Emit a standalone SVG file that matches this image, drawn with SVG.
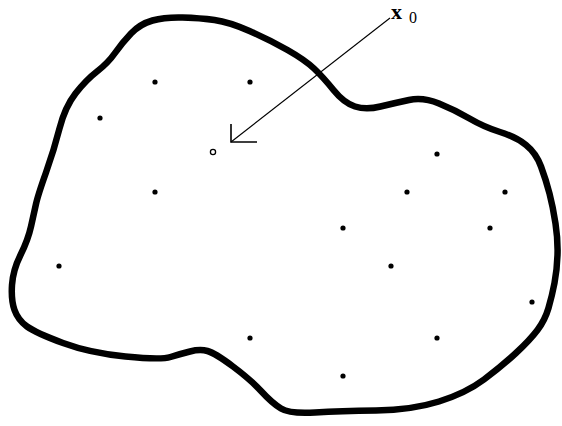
<svg xmlns="http://www.w3.org/2000/svg" width="562" height="426" viewBox="0 0 562 426">
<style>
.outline{fill:none;stroke:#000;stroke-width:6.5;stroke-linejoin:round}
.pt{fill:#000}
.lbl{font-family:"Liberation Serif",serif;fill:#000}
</style>
<rect width="562" height="426" fill="#fff"/>
<g id="region">
<path class="outline" d="M152.5,20.5 Q165,17 182.5,17.5 Q200,18 214.5,20 Q229,22 249.5,31 Q270,40 287.5,50 Q305,60 314,68.5 Q323,77 333.5,90 Q344,103 355,106.5 Q366,110 380.5,106.5 Q395,103 409,100 Q423,97 439,103.5 Q455,110 469.5,118.5 Q484,127 500,132 Q516,137 526,145 Q536,153 541,166.5 Q546,180 549.5,193.5 Q553,207 555.5,223.5 Q558,240 557.5,255 Q557,270 554.5,283 Q552,296 548.5,308 Q545,320 537.5,330 Q530,340 516,353 Q502,366 484,379.5 Q466,393 439,401.5 Q412,410 376,410.5 Q340,411 315,412.5 Q290,414 281,408.5 Q272,403 261.5,391.5 Q251,380 233,366.5 Q215,353 207.5,351 Q200,349 190,351.5 Q180,354 170.5,357 Q161,360 125.5,356.5 Q90,353 63,343 Q36,333 27,326.5 Q18,320 14.5,310 Q11,300 12,285 Q13,270 20.5,255 Q28,240 31,226.5 Q34,213 36,204 Q38,195 46,172.5 Q54,150 59.5,128.5 Q65,107 75.5,93.5 Q86,80 97,71.5 Q108,63 115,53 Q122,43 131,33.5 Q140,24 152.5,20.5 Z"/>
</g>
<g id="points">
<circle class="pt" cx="155" cy="82" r="2.6"/>
<circle class="pt" cx="250" cy="82" r="2.6"/>
<circle class="pt" cx="100" cy="118" r="2.6"/>
<circle class="pt" cx="437" cy="154" r="2.6"/>
<circle class="pt" cx="155" cy="192" r="2.6"/>
<circle class="pt" cx="407" cy="192" r="2.6"/>
<circle class="pt" cx="505" cy="192" r="2.6"/>
<circle class="pt" cx="343" cy="228" r="2.6"/>
<circle class="pt" cx="490" cy="228" r="2.6"/>
<circle class="pt" cx="59" cy="266" r="2.6"/>
<circle class="pt" cx="391" cy="266" r="2.6"/>
<circle class="pt" cx="532" cy="302" r="2.6"/>
<circle class="pt" cx="250" cy="338" r="2.6"/>
<circle class="pt" cx="437" cy="338" r="2.6"/>
<circle class="pt" cx="343" cy="376" r="2.6"/>
</g>
<g id="x0-point">
<circle cx="213" cy="152" r="2.6" fill="#fff" stroke="#000" stroke-width="1.3"/>
</g>
<g id="connectors">
<line x1="390" y1="18" x2="231" y2="142" stroke="#000" stroke-width="1.1"/>
<polyline points="231,124 231,142 257,142" fill="none" stroke="#000" stroke-width="1.6"/>
</g>
<g id="label">
<text class="lbl" x="391" y="19" font-size="22" font-weight="bold">x</text>
<text class="lbl" x="409" y="23" font-size="16" font-family="Liberation Sans Narrow, Liberation Sans, sans-serif">0</text>
</g>
</svg>
